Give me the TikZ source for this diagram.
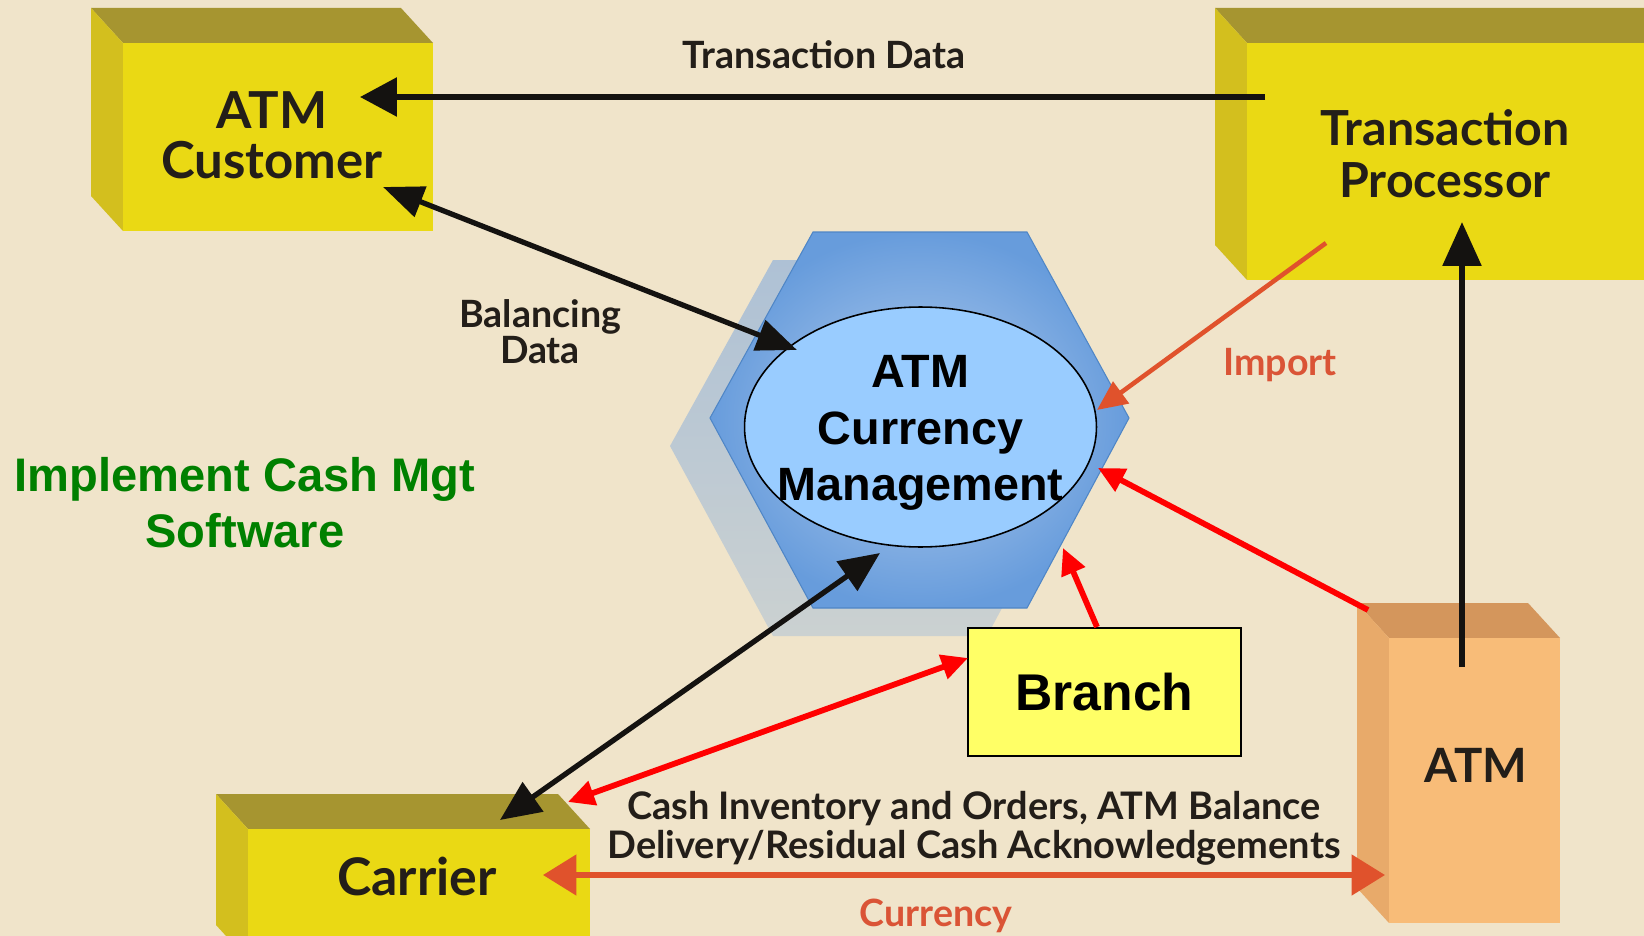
\documentclass[tikz,border=0pt]{standalone}
\usepackage{fontspec}
\setmainfont{Liberation Sans}
\newfontfamily\labfont{Lato}
\usetikzlibrary{arrows.meta,shapes.geometric,calc}

\definecolor{bg}{HTML}{F0E4CA}
\definecolor{ink}{HTML}{231E19}
\definecolor{ink2}{HTML}{141210}
\definecolor{yfront}{HTML}{EAD914}
\definecolor{ytop}{HTML}{A69530}
\definecolor{yside}{HTML}{D3BF1E}
\definecolor{pfront}{HTML}{F8BC78}
\definecolor{ptop}{HTML}{D4965C}
\definecolor{pside}{HTML}{E8AA6A}
\definecolor{hexin}{HTML}{B4CEEE}
\definecolor{hexout}{HTML}{679CDC}
\definecolor{hexedge}{HTML}{4F86C6}
\definecolor{shadtop}{HTML}{AEC1D5}
\definecolor{shadbot}{HTML}{CBD1D1}
\definecolor{ellfill}{HTML}{99CCFF}
\definecolor{branchfill}{HTML}{FFFF66}
\definecolor{orng}{HTML}{E0522C}
\definecolor{orngtext}{HTML}{DA5436}
\definecolor{grn}{HTML}{008000}

\tikzset{
  ohead/.tip={Triangle[length=19pt,width=22.7pt]},
  rhead/.tip={Triangle[length=15pt,width=14pt]}
}

% solid box: name, x1, y1, x2, y2 (front face), front, top and side colours
\newcommand\solidbox[8]{%
  \fill[#7] (#2,#3) -- ++(-32,-35) -- ++({#4-#2},0) -- (#4,#3) -- cycle;
  \fill[#8] (#2,#3) -- ++(-32,-35) -- ++(0,{#5-#3}) -- (#2,#5) -- cycle;
  \node[fill=#6, inner sep=0pt, outer sep=0pt,
        minimum width={(#4-#2)*0.02cm}, minimum height={(#5-#3)*0.02cm}]
        (#1) at ({(#2+#4)/2},{(#3+#5)/2}) {};
}

\begin{document}
\begin{tikzpicture}[x=0.02cm,y=-0.02cm,
  lab/.style={font=\labfont\bfseries, text=ink, align=center, inner sep=0pt},
  blk/.style={draw=ink2, line width=3.3pt},
  redarr/.style={draw=red, line width=3.3pt},
  orarr/.style={draw=orng, line width=3pt}
]
\clip (0,0) rectangle (1644,936);
\fill[bg] (0,0) rectangle (1644,936);

% the four external parties
\solidbox{cust}{123}{43}{433}{231}{yfront}{ytop}{yside}
\solidbox{tp}{1247}{43}{1700}{280}{yfront}{ytop}{yside}
\solidbox{carrier}{248}{829}{590}{960}{yfront}{ytop}{yside}
\solidbox{atm}{1389}{638}{1560}{923}{pfront}{ptop}{pside}

\node[lab, font=\labfont\bfseries\fontsize{29}{28.5}\selectfont] (custlbl) at (272,135) {ATM\\Customer};
\node[lab, font=\labfont\bfseries\fontsize{27.5}{29.5}\selectfont] (tplbl) at (1445,154) {Transaction\\Processor};
\node[lab, font=\labfont\bfseries\fontsize{29.5}{30}\selectfont] (carrierlbl) at (417,876) {Carrier};
\node[lab, font=\labfont\bfseries\fontsize{26.9}{30}\selectfont] (atmlbl) at (1476,765) {ATM};

% central hexagon with its shadow
\shade[top color=shadtop, bottom color=shadbot]
  (773,260) -- (987,260) -- (1089,446) -- (987,636) -- (773,636) -- (670,446) -- cycle;
\shadedraw[inner color=hexin, outer color=hexout, draw=hexedge, line width=0.6pt]
  (813,232) -- (1027,232) -- (1129,418) -- (1027,608) -- (813,608) -- (710,418) -- cycle;
\node[ellipse, draw=black, line width=0.9pt, fill=ellfill, inner sep=0pt,
      minimum width=7.04cm, minimum height=4.8cm] (cm) at (920.5,427) {};
\node[inner sep=0pt, align=center, font=\bfseries\fontsize{26.6}{32.3}\selectfont] (cmlbl)
  at (920.5,433) {ATM\\Currency\\Management};

% branch
\node[draw=black, line width=1pt, fill=branchfill, minimum width=5.46cm, minimum height=2.56cm,
      inner sep=0pt, font=\bfseries\fontsize{29.4}{35}\selectfont] (branch) at (1104.5,692) {Branch};

% connector end points
\coordinate (tdA) at (1265,97);   \coordinate (tdB) at (360,97);
\coordinate (atA) at (1462,667);  \coordinate (atB) at (1462,222);
\coordinate (balA) at (383,187);  \coordinate (balB) at (797,350);
\coordinate (carA) at (880,553);  \coordinate (carB) at (500,820);
\coordinate (impA) at (1326,243); \coordinate (impB) at (1097,410);
\coordinate (ratA) at (1368,610); \coordinate (ratB) at (1098,468);
\coordinate (rbrA) at (1097,627); \coordinate (rbrB) at (1063,548);
\coordinate (rcaA) at (968,658);  \coordinate (rcaB) at (568,802);
\coordinate (curA) at (543,875);  \coordinate (curB) at (1385,875);

% data flows
\draw[blk, -{Triangle[length=21pt,width=21.6pt]}] (tdA) -- (tdB);
\draw[blk, -{Triangle[length=25pt,width=21.6pt]}] (atA) -- (atB);
\draw[blk, line width=3pt, {Triangle[length=23pt,width=18pt]}-{Triangle[length=23pt,width=18pt]}] (balA) -- (balB);
\draw[blk, line width=3pt, {Triangle[length=23pt,width=20pt]}-{Triangle[length=23pt,width=20pt]}] (carA) -- (carB);
\draw[orarr, line width=2.6pt, -{Triangle[length=17pt,width=15pt]}] (impA) -- (impB);
\draw[orarr, {ohead}-{ohead}] (curA) -- (curB);
\draw[redarr, -{rhead}] (ratA) -- (ratB);
\draw[redarr, -{rhead}] (rbrA) -- (rbrB);
\draw[redarr, {rhead}-{rhead}] (rcaA) -- (rcaB);

% flow labels
\node[lab, font=\labfont\bfseries\fontsize{21.4}{24}\selectfont] (tdlbl) at (824,55) {Transaction Data};
\node[lab, font=\labfont\bfseries\fontsize{21.4}{20.4}\selectfont] (ballbl) at (540,332) {Balancing\\Data};
\node[lab, text=orngtext, font=\labfont\bfseries\fontsize{21.4}{24}\selectfont, anchor=base] (implbl) at (1280,375) {Import};
\node[lab, font=\labfont\bfseries\fontsize{21.6}{22.1}\selectfont] (cashlbl) at (974,828)
  {Cash Inventory and Orders, ATM Balance\\Delivery/Residual Cash Acknowledgements};
\node[lab, text=orngtext, font=\labfont\bfseries\fontsize{21.4}{24}\selectfont, anchor=base] (curlbl) at (936,926) {Currency};

% title
\node[inner sep=0pt, align=center, text=grn, font=\bfseries\fontsize{26.8}{31.7}\selectfont] (title)
  at (245,503) {Implement Cash Mgt\\Software};
\end{tikzpicture}
\end{document}
